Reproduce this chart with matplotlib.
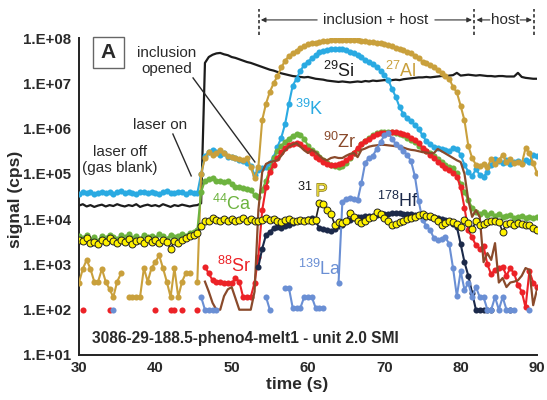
import numpy as np
import matplotlib
matplotlib.use("Agg")
import matplotlib.pyplot as plt
import matplotlib.patheffects as pe
from matplotlib.patches import Rectangle
from matplotlib.ticker import FixedLocator, FuncFormatter, NullLocator

plt.rcParams["font.family"] = ["Liberation Sans", "DejaVu Sans"]
plt.rcParams["mathtext.fontset"] = "custom"
plt.rcParams["mathtext.rm"] = "Liberation Sans"
plt.rcParams["mathtext.it"] = "Liberation Sans:italic"
plt.rcParams["mathtext.bf"] = "Liberation Sans:bold"

nan = np.nan

# one reading every 0.5 s, 30 s .. 90 s
time_s = np.arange(121) * 0.5 + 30

# log10(signal, cps); each row = 5 s (10 readings)
si_log = [
    4.30, 4.33, 4.28, 4.31, 4.27, 4.30, 4.32, 4.28, 4.31, 4.29,
    4.33, 4.30, 4.28, 4.31, 4.29, 4.33, 4.27, 4.30, 4.32, 4.29,
    4.31, 4.28, 4.33, 4.30, 4.27, 4.31, 4.29, 4.32, 4.30, 4.28,
    4.30, 4.31, 4.35, 7.45, 7.58, 7.63, 7.66, 7.67, 7.64, 7.62,
    7.58, 7.56, 7.53, 7.50, 7.47, 7.45, 7.42, 7.39, 7.36, 7.33,
    7.30, 7.28, 7.25, 7.22, 7.20, 7.18, 7.16, 7.15, 7.14, 7.13,
    7.14, 7.12, 7.10, 7.09, 7.08, 7.06, 7.05, 7.04, 7.03, 7.04,
    7.03, 7.02, 7.03, 7.04, 7.03, 7.05, 7.04, 7.06, 7.05, 7.06,
    7.07, 7.06, 7.07, 7.08, 7.07, 7.09, 7.10, 7.11, 7.12, 7.13,
    7.13, 7.14, 7.13, 7.14, 7.15, 7.16, 7.15, 7.17, 7.18, 7.23,
    7.17, 7.18, 7.19, 7.18, 7.17, 7.18, 7.17, 7.16, 7.16, 7.15,
    7.16, 7.16, 7.15, 7.15, 7.15, 7.23, 7.14, 7.12, 7.11, 7.10,
    7.10]

k_log = [
    4.56, 4.60, 4.57, 4.59, 4.55, 4.58, 4.61, 4.57, 4.60, 4.56,
    4.59, 4.62, 4.57, 4.60, 4.58, 4.55, 4.59, 4.61, 4.57, 4.60,
    4.58, 4.56, 4.60, 4.62, 4.58, 4.57, 4.60, 4.59, 4.56, 4.60,
    4.58, 4.57, 5.00, 5.40, 5.48, 5.53, 5.48, 5.42, 5.45, 5.38,
    5.37, 5.35, 5.30, 5.28, 5.25, 5.18, 4.98, 5.09, 5.12, 5.15,
    5.25, 5.37, 5.60, 5.80, 6.10, 6.55, 6.95, 7.10, 7.28, 7.40,
    7.48, 7.55, 7.62, 7.68, 7.71, 7.73, 7.75, 7.76, 7.76, 7.75,
    7.73, 7.70, 7.67, 7.62, 7.57, 7.52, 7.48, 7.43, 7.37, 7.28,
    7.18, 7.08, 6.88, 6.70, 6.47, 6.32, 6.24, 6.16, 6.08, 5.99,
    5.85, 5.72, 5.66, 5.60, 5.57, 5.55, 5.52, 5.50, 5.57, 5.55,
    5.42, 5.20, 5.05, 4.95, 5.10, 4.98, 4.93, 5.05, 5.20, 5.33,
    5.28, 5.25, 5.30, 5.22, 5.26, 5.28, 5.25, 5.30, 5.26, 5.42,
    5.40]

al_log = [
    2.60, 2.90, 3.10, 2.90, 2.62, 2.62, 2.90, 2.62, 2.45, 2.28,
    2.62, 2.80, nan, 2.28, 2.28, 2.28, 2.28, 2.92, 2.62, 2.92,
    3.05, 3.20, 2.92, 2.62, 2.28, 2.92, 2.28, 2.62, 2.81, 2.81,
    nan, 2.62, 5.00, 5.35, 5.48, 5.42, 5.45, 5.53, 5.45, 5.40,
    5.37, 5.35, 5.33, 5.30, 5.35, 5.15, 4.90, 5.15, 6.19, 6.55,
    6.81, 7.00, 7.16, 7.35, 7.50, 7.60, 7.66, 7.72, 7.78, 7.82,
    7.86, 7.88, 7.90, 7.92, 7.93, 7.94, 7.95, 7.96, 7.96, 7.96,
    7.96, 7.96, 7.95, 7.95, 7.94, 7.93, 7.92, 7.91, 7.90, 7.88,
    7.86, 7.84, 7.82, 7.79, 7.76, 7.73, 7.70, 7.66, 7.61, 7.55,
    7.48, 7.45, 7.40, 7.35, 7.29, 7.22, 7.17, 7.10, 6.92, 6.80,
    6.50, 6.18, 5.62, 5.35, 5.20, 5.18, 5.22, 5.15, 5.33, 5.22,
    5.30, 5.42, 5.26, 5.32, 5.24, 5.26, 5.22, 5.57, 5.45, 5.24,
    5.02]

ca_log = [
    3.62, 3.58, 3.65, 3.55, 3.60, 3.52, 3.63, 3.58, 3.66, 3.60,
    3.56, 3.64, 3.60, 3.67, 3.58, 3.62, 3.55, 3.66, 3.60, 3.63,
    3.58, 3.68, 3.62, 3.57, 3.65, 3.60, 3.63, 3.68, 3.62, 3.70,
    3.72, 3.75, 4.60, 4.85, 4.88, 4.90, 4.85, 4.84, 4.82, 4.85,
    4.78, 4.72, 4.70, 4.68, 4.66, 4.65, 4.53, 4.50, 4.65, 4.85,
    5.10, 5.35, 5.50, 5.62, 5.70, 5.78, 5.84, 5.88, 5.86, 5.78,
    5.62, 5.52, 5.45, 5.38, 5.30, 5.25, 5.20, 5.17, 5.15, 5.18,
    5.25, 5.35, 5.45, 5.55, 5.65, 5.72, 5.80, 5.85, 5.90, 5.92,
    5.93, 5.93, 5.92, 5.90, 5.88, 5.85, 5.80, 5.75, 5.70, 5.62,
    5.55, 5.50, 5.45, 5.40, 5.33, 5.27, 5.20, 5.15, 5.12, 5.02,
    4.78, 4.60, 4.42, 4.25, 4.15, 4.12, 4.15, 4.10, 4.13, 4.08,
    4.12, 4.05, 4.08, 4.10, 4.02, 4.05, 4.08, 4.02, 4.05, 4.03,
    4.04]

sr_log = [
    nan, 2.00, nan, nan, nan, nan, nan, nan, 2.00, nan,
    nan, nan, nan, nan, nan, nan, nan, nan, nan, nan,
    2.00, nan, nan, nan, 2.00, 2.00, nan, 2.00, nan, nan,
    nan, 2.00, nan, 2.95, 2.80, 2.65, 2.62, 2.62, 2.60, 2.60,
    2.58, 2.70, 2.62, 2.28, 2.28, 2.28, 2.60, 3.17, 4.20, 4.70,
    5.05, 5.20, 5.35, 5.48, 5.57, 5.64, 5.66, 5.68, 5.65, 5.60,
    5.52, 5.45, 5.38, 5.32, 5.27, 5.22, 5.20, 5.20, 5.21, 5.24,
    5.30, 5.37, 5.47, 5.57, 5.65, 5.73, 5.78, 5.83, 5.87, 5.90,
    5.91, 5.91, 5.92, 5.92, 5.91, 5.88, 5.85, 5.80, 5.75, 5.68,
    5.58, 5.50, 5.42, 5.35, 5.27, 5.20, 5.14, 5.08, 5.02, 4.94,
    4.70, 4.25, 3.75, 3.60, 3.42, 3.35, 3.40, 3.00, 2.78, 2.88,
    2.92, 2.95, 2.75, 2.92, 2.80, 2.55, 2.40, 2.05, 2.85, 2.60,
    2.50]

zr_log = [nan] * 30 + [
    nan, nan, nan, 2.62, 2.40, 2.15, 2.00, 2.00, 2.30, 2.45,
    2.50, 2.25, 2.00, 2.00, 2.00, 2.00, 2.40, 4.20, 5.04, 5.22,
    5.26, 5.28, 5.30, 5.40, 5.52, 5.60, 5.65, 5.68, 5.60, 5.52,
    5.46, 5.53, 5.48, 5.40, 5.33, 5.30, 5.35, 5.37, 5.35, 5.35,
    5.40, 5.44, 5.46, 5.37, 5.53, 5.56, 5.60, 5.62, 5.63, 5.64,
    5.64, 5.63, 5.62, 5.61, 5.60, 5.58, 5.55, 5.53, 5.52, 5.50,
    5.48, 5.47, 5.46, 5.46, 5.55, 5.50, 5.45, 5.40, 5.35, 5.30,
    5.26, 5.00, 4.42, 4.05, 4.20, 4.05, 3.05, 3.25, 3.10, 3.47,
    2.60, 2.70, 2.50, 2.60, 2.62, 2.65, 2.75, 2.92, 2.88, 2.10,
    2.45]

p_log = [
    3.55, 3.52, 3.58, 3.48, 3.50, 3.45, 3.55, 3.50, 3.58, 3.52,
    3.48, 3.55, 3.50, 3.57, 3.45, 3.52, 3.55, 3.48, 3.56, 3.50,
    3.53, 3.47, 3.55, 3.50, 3.35, 3.52, 3.48, 3.55, 3.58, 3.62,
    3.65, 3.70, 3.85, 3.95, 3.97, 4.02, 3.98, 3.95, 4.00, 3.96,
    4.00, 3.95, 3.98, 4.02, 3.96, 4.00, 3.97, 3.95, 3.99, 4.02,
    3.98, 4.00, 3.96, 3.93, 3.98, 4.01, 3.97, 3.95, 3.99, 3.96,
    3.98, 3.95, 3.98, 4.36, 4.34, 4.20, 4.12, 3.88, 3.94, 3.92,
    3.95, 4.14, 4.05, 3.96, 3.92, 3.97, 4.02, 4.05, 4.16, 4.12,
    4.02, 3.95, 3.88, 3.90, 3.93, 3.96, 4.00, 4.03, 4.05, 4.10,
    4.12, 4.08, 4.06, 4.02, 3.97, 3.88, 3.92, 3.96, 3.94, 3.90,
    3.82, 3.98, 3.92, 3.78, 3.95, 3.88, 3.90, 3.93, 3.95, 3.97,
    3.94, 3.72, 3.90, 3.92, 3.88, 3.92, 3.90, 3.88, 3.86, 3.80,
    3.76]

hf_log = [nan] * 47 + [
    2.95, 3.35, 3.65,
    3.72, 3.80, 3.82, 3.80, 3.85, 3.88, 3.92, 3.95, 3.97, 3.98,
    4.00, 4.02, 3.95, 3.80, 3.78, 3.76, 3.73, 3.78, 3.85, 3.88,
    3.95, 3.98, 4.03, 4.04, 4.05, 4.06, 4.07, 4.08, 4.09, 4.10,
    4.11, 4.12, 4.13, 4.13, 4.13, 4.12, 4.12, 4.11, 4.10, 4.09,
    4.07, 4.06, 4.05, 4.04, 4.03, 4.01, 3.99, 3.97, 3.90, 3.83,
    3.45, 3.05, 2.75, 2.37, 2.00, 2.00, 2.00, 2.00, 2.00, nan,
    nan, nan, nan, 2.00, nan, nan, nan, nan, nan, nan,
    nan]

la_log = [
    nan, nan, nan, nan, nan, nan, nan, nan, nan, 2.00,
    nan, nan, nan, nan, nan, nan, nan, nan, nan, nan,
    nan, nan, nan, nan, nan, nan, nan, nan, nan, nan,
    nan, nan, 2.28, 2.00, 2.00, 2.00, 2.00, nan, nan, nan,
    nan, nan, nan, nan, nan, nan, nan, nan, nan, 2.28,
    2.00, nan, nan, nan, 2.48, 2.48, 2.04, 2.04, 2.04, 2.28,
    2.28, 2.28, 2.04, 2.04, 2.04, nan, nan, nan, 2.59, 4.38,
    4.45, 4.47, 4.45, 4.42, 4.80, 5.25, 5.35, 5.40, 5.55, 5.70,
    5.85, 5.90, 5.78, 5.66, 5.60, 5.50, 5.42, 5.28, 4.95, 4.40,
    3.98, 3.85, 3.76, 3.58, 3.55, 3.56, 3.60, 3.45, 2.92, 2.30,
    2.85, 2.44, 2.59, 2.28, 2.50, 2.28, 2.28, 2.00, 2.00, 2.28,
    2.00, 2.28, 2.00, 2.00, 2.00, nan, nan, nan, 2.00, nan,
    nan]

decades = [1e1, 1e2, 1e3, 1e4, 1e5, 1e6, 1e7, 1e8]

C_SI = "#1c1c1c"
C_K = "#2aaae2"
C_AL = "#c9a03c"
C_CA = "#6db33f"
C_SR = "#ec2227"
C_ZR = "#8a4a2b"
C_P = "#fff200"
C_HF = "#1c2a4a"
C_LA = "#6a8fd4"
TXT = "#2a2a2a"


def cps(logs):
    vals = np.array(logs, dtype=float)
    assert vals.shape == time_s.shape, len(logs)
    return 10 ** vals


def trace(ax, logs, color, z, markers=True, lw=1.5):
    ax.plot(time_s, cps(logs), color=color, lw=lw, zorder=z,
            marker="o" if markers else None, ms=4.4, mfc=color, mec=color, mew=0)


fig = plt.figure(figsize=(5.47, 4.0), dpi=100)
ax = fig.add_axes([79 / 547, 45 / 400, 458 / 547, 317 / 400])

trace(ax, si_log, C_SI, 2, markers=False, lw=1.6)
trace(ax, k_log, C_K, 3)
trace(ax, al_log, C_AL, 4)
trace(ax, ca_log, C_CA, 5)
trace(ax, sr_log, C_SR, 6)
trace(ax, zr_log, C_ZR, 7, markers=False, lw=1.6)
trace(ax, hf_log, C_HF, 8)
trace(ax, la_log, C_LA, 9)
ax.plot(time_s, cps(p_log), color="#222222", lw=1.2, zorder=10,
        marker="o", ms=5.0, mfc=C_P, mec="#222222", mew=0.7)

ax.set_yscale("log")
ax.set_xlim(30, 90)
ax.set_ylim(10, 1e8)
ax.yaxis.set_major_locator(FixedLocator(decades))
ax.yaxis.set_minor_locator(NullLocator())
ax.yaxis.set_major_formatter(FuncFormatter(lambda v, _: "1.E+%02d" % round(np.log10(v))))
ax.set_xticks([30, 40, 50, 60, 70, 80, 90])
ax.tick_params(axis="both", length=0, labelsize=10.8, labelcolor=TXT)
ax.tick_params(axis="y", pad=6.0)
ax.tick_params(axis="x", pad=4.5)
for lab in ax.get_xticklabels() + ax.get_yticklabels():
    lab.set_fontweight("bold")
for side in ("top", "right"):
    ax.spines[side].set_visible(False)
for side in ("left", "bottom"):
    ax.spines[side].set_linewidth(1.4)
    ax.spines[side].set_color("#222222")

fig.text(16 / 547, 1 - 199 / 400, "signal (cps)", rotation=90, ha="center", va="center",
         fontsize=12.5, fontweight="bold", color=TXT)
fig.text(297 / 547, 1 - 385 / 400, "time (s)", ha="center", va="center",
         fontsize=12.5, fontweight="bold", color=TXT)

# panel letter
ax.add_patch(Rectangle((0.0306, 0.905), 0.0677, 0.0978, transform=ax.transAxes,
                       fill=False, ec="#666666", lw=1.0, clip_on=False))
ax.text(0.0644, 0.954, "A", transform=ax.transAxes, ha="center", va="center",
        fontsize=15, fontweight="bold", color=TXT)

ax.text(0.0284, 0.0536, "3086-29-188.5-pheno4-melt1 - unit 2.0 SMI", transform=ax.transAxes,
        ha="left", va="center", fontsize=11.2, fontweight="bold", color=TXT)

# isotope labels (left edge, baseline) in axes fraction
labels = [
    (r"$^{29}$Si", 0.5328, 0.877, C_SI),
    (r"$^{27}$Al", 0.668, 0.877, C_AL),
    (r"$^{39}$K", 0.4716, 0.757, C_K),
    (r"$^{90}$Zr", 0.5328, 0.653, C_ZR),
    (r"$^{178}$Hf", 0.6507, 0.467, C_HF),
    (r"$^{139}$La", 0.478, 0.2524, C_LA),
    (r"$^{44}$Ca", 0.2904, 0.4574, C_CA),
    (r"$^{88}$Sr", 0.3013, 0.2618, C_SR),
]
for txt, x, y, c in labels:
    ax.text(x, y, txt, transform=ax.transAxes, ha="left", va="baseline",
            fontsize=13, color=c, zorder=20)
ax.text(0.477, 0.5016, r"$^{31}$", transform=ax.transAxes, ha="left", va="baseline",
        fontsize=13, color=C_SI, zorder=20)
ax.text(0.5165, 0.5016, "P", transform=ax.transAxes, ha="left", va="baseline",
        fontsize=13, color="#e4d43a", zorder=20,
        path_effects=[pe.withStroke(linewidth=0.8, foreground="#7a6a10")])

# event notes with leader lines
ax.text(0.192, 0.927, "inclusion\nopened", transform=ax.transAxes, ha="center", va="center",
        fontsize=11, color=TXT, linespacing=1.15)
ax.plot([0.249, 0.384], [0.874, 0.609], transform=ax.transAxes, color=TXT, lw=1.0)
ax.text(0.177, 0.726, "laser on", transform=ax.transAxes, ha="center", va="center",
        fontsize=11, color=TXT)
ax.plot([0.205, 0.245], [0.697, 0.565], transform=ax.transAxes, color=TXT, lw=1.0)
ax.text(0.0895, 0.615, "laser off\n(gas blank)", transform=ax.transAxes, ha="center",
        va="center", fontsize=11, color=TXT, linespacing=1.1)

# interval markers above the plot
for xf in (0.393, 0.8624, 0.9934):
    ax.plot([xf, xf], [1.0095, 1.0915], transform=ax.transAxes, clip_on=False,
            color="#333333", lw=1.2, ls=(0, (2, 1.5)))
arrow = dict(arrowstyle="-|>", color="#333333", lw=0.8, mutation_scale=7,
             shrinkA=0, shrinkB=0)
for x0, x1 in ((0.52, 0.397), (0.777, 0.858), (0.897, 0.868), (0.963, 0.989)):
    ax.annotate("", xy=(x1, 1.057), xytext=(x0, 1.057), xycoords="axes fraction",
                arrowprops=arrow, annotation_clip=False)
ax.text(0.6485, 1.057, "inclusion + host", transform=ax.transAxes, ha="center",
        va="center", fontsize=11, color=TXT)
ax.text(0.930, 1.057, "host", transform=ax.transAxes, ha="center", va="center",
        fontsize=11, color=TXT)

fig.savefig("out.png", dpi=100, facecolor="white")
